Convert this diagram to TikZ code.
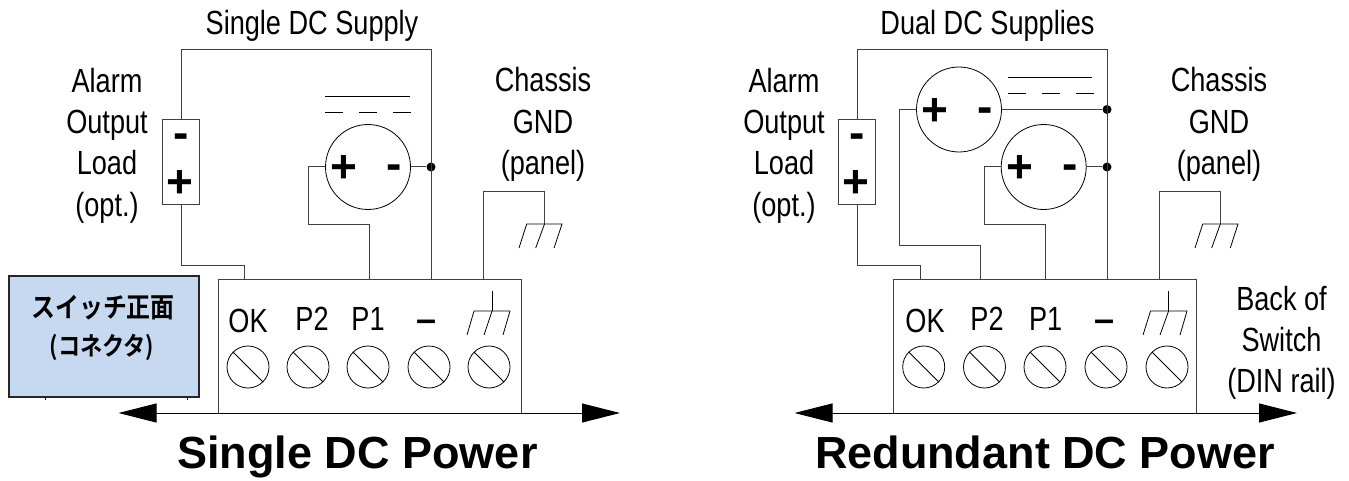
\documentclass[tikz,border=0pt]{standalone}
\usepackage{fontspec}
\usetikzlibrary{arrows.meta}
\newfontfamily\labfont[FakeStretch=0.81]{Liberation Sans}
\newfontfamily\titlefont{Liberation Sans Bold}
\newfontfamily\cjkfont[FakeStretch=0.87]{Noto Sans CJK JP Bold}
\definecolor{wirec}{HTML}{404040}
\definecolor{panelfill}{HTML}{C6D9F1}
\tikzset{
  wire/.style={draw=wirec,line width=1pt,line join=miter},
  thin line/.style={draw=black,line width=0.8pt},
  lab/.style={inner sep=0pt,align=center,font=\labfont\fontsize{33.5}{41.3}\selectfont},
  labbase/.style={lab,anchor=base},
  titletext/.style={inner sep=0pt,anchor=base,font=\titlefont\fontsize{45}{50}\selectfont},
  sign/.style={inner sep=0pt,font=\titlefont\fontsize{46}{50}\selectfont},
  dash sign/.style={inner sep=0pt,font=\titlefont\fontsize{36}{40}\selectfont},
  supply/.style={circle,draw=black,line width=0.8pt,minimum size=85pt,inner sep=0pt},
  screw/.style={circle,draw=black,line width=0.8pt,minimum size=42pt,inner sep=0pt},
  junction/.style={circle,fill=black,minimum size=9pt,inner sep=0pt},
  loadbox/.style={rectangle,draw=wirec,line width=1pt,minimum width=37pt,minimum height=85pt,inner sep=0pt},
  blockbox/.style={rectangle,draw=wirec,line width=1pt,fill=white,inner sep=0pt},
  rail/.style={draw=black,line width=1pt,{Triangle[length=38pt,width=19pt]}-{Triangle[length=38pt,width=19pt]}},
}
\begin{document}
\begin{tikzpicture}[x=1pt,y=-1pt]
\useasboundingbox (0,0) rectangle (1349,481);
% ---------- LEFT ----------
\coordinate (Lrl) at (118.5,413);
\coordinate (Lrr) at (620,413);
\draw[rail] (Lrl) -- (Lrr);
\node[blockbox,minimum width=303pt,minimum height=134pt] (Lblk) at (369.5,346) {};
\draw[draw=black,line width=1pt] (Lblk.south west) -- (Lblk.south east);
\node[supply] (Lps) at (368,167) {};
\node[loadbox] (Lload) at (181,162.5) {};
\node[junction] (Ldot) at (431,167) {};
\coordinate (Ltl) at (181,50);
\coordinate (Ltr) at (431,50);
\coordinate (Lt) at (431,279);
\draw[wire] (Lload.north) -- (Ltl) -- (Ltr) -- (Lt);
\draw[wire] (Lps.east) -- (Ldot);
\coordinate (Lok) at (244.5,279);
\draw[wire] (Lload.south) -- (181,265) -- (244.5,265) -- (Lok);
\coordinate (Lp1) at (369,279);
\draw[wire] (Lps.west) -- (308.5,167) -- (308.5,225) -- (369,225) -- (Lp1);
\coordinate (Lch) at (483.5,279);
\coordinate (Lgt) at (544.5,224);
\draw[wire] (Lch) -- (483.5,191.7) -- (544.5,191.7) -- (Lgt);
\draw[thin line] (519,248) -- (526.7,224) -- (562,224) -- (554,248);
\draw[thin line] (Lgt) -- (535.7,248);
\draw[thin line] (325,96) -- (409.5,96);
\draw[thin line,dash pattern=on 18pt off 16pt] (325,112) -- (411.5,112);
\node[sign] (Lpp) at (344,169) {+};
\node[sign] (Lpm) at (394,172) {-};
\node[sign] (Llm) at (181,141) {-};
\node[sign] (Llp) at (179.5,184) {+};
\node[labbase] (Lt1) at (312,35) {Single DC Supply};
\node[lab] (Lt2) at (107,145.5) {Alarm\\Output\\Load\\(opt.)};
\node[lab] (Lt3) at (543,124.5) {Chassis\\GND\\(panel)};
\node[titletext] (Lttl) at (357.5,468) {Single DC Power};
\foreach \n/\x in {a/248,b/308,c/368,d/429,e/489}{
  \node[screw] (Ls\n) at (\x,367) {};
  \draw[thin line] (Ls\n.135) -- (Ls\n.-45);
}
\node[labbase] (Lok1) at (248,332) {OK};
\node[labbase] (Lp2t) at (312,330) {P2};
\node[labbase] (Lp1t) at (368,330) {P1};
\node[dash sign] (Lmt) at (427,326) {–};
\draw[thin line] (492,291) -- (492,311);
\draw[thin line] (467,335) -- (474,311) -- (510,311) -- (503,335);
\draw[thin line] (492,311) -- (484,335);
% panel
\draw[black,line width=1pt] (45,397) -- (45,400) (187,397) -- (187,400);
\node[rectangle,draw=black!85,line width=1.8pt,fill=panelfill,minimum width=190pt,minimum height=121pt,inner sep=0pt] (Lpanel) at (104,336.5) {};
\node[inner sep=0pt,font=\cjkfont\fontsize{27.5}{30}\selectfont] (Lj1) at (103,308) {スイッチ正面};
\node[inner sep=0pt,font=\cjkfont\fontsize{25.5}{28}\selectfont] (Lj2) at (102,347) {(コネクタ)};
% ---------- RIGHT ----------
\coordinate (Rrl) at (794.5,413);
\coordinate (Rrr) at (1297,413);
\draw[rail] (Rrl) -- (Rrr);
\node[blockbox,minimum width=303pt,minimum height=134pt] (Rblk) at (1045,346) {};
\draw[draw=black,line width=1pt] (Rblk.south west) -- (Rblk.south east);
\node[supply] (Rps1) at (959,109.5) {};
\node[supply] (Rps2) at (1043.7,167) {};
\node[loadbox] (Rload) at (857,162.5) {};
\node[junction] (Rdot1) at (1107,109.5) {};
\node[junction] (Rdot2) at (1107,167) {};
\coordinate (Rt) at (1107,279);
\draw[wire] (Rload.north) -- (857,50) -- (1107,50) -- (Rt);
\draw[wire] (Rps1.east) -- (Rdot1);
\draw[wire] (Rps2.east) -- (Rdot2);
\coordinate (Rok) at (920,279);
\draw[wire] (Rload.south) -- (857,265) -- (920,265) -- (Rok);
\coordinate (Rp2) at (980,279);
\draw[wire] (Rps1.west) -- (899.7,109.5) -- (899.7,245) -- (980,245) -- (Rp2);
\coordinate (Rp1) at (1045,279);
\draw[wire] (Rps2.west) -- (984.3,167) -- (984.3,225) -- (1045,225) -- (Rp1);
\coordinate (Rch) at (1159.5,279);
\coordinate (Rgt) at (1220.3,224);
\draw[wire] (Rch) -- (1159.5,191.7) -- (1220.3,191.7) -- (Rgt);
\draw[thin line] (1195,248) -- (1202.7,224) -- (1238,224) -- (1230.3,248);
\draw[thin line] (Rgt) -- (1211.7,248);
\draw[thin line] (1008,77) -- (1092,77);
\draw[thin line,dash pattern=on 18pt off 16pt] (1008,93) -- (1094,93);
\node[sign] (Rpp1) at (935,112) {+};
\node[sign] (Rpm1) at (985.5,115) {-};
\node[sign] (Rpp2) at (1019.5,169) {+};
\node[sign] (Rpm2) at (1070,172) {-};
\node[sign] (Rlm) at (857,141) {-};
\node[sign] (Rlp) at (855.5,184) {+};
\node[labbase] (Rt1) at (987.5,35) {Dual DC Supplies};
\node[lab] (Rt2) at (784,145.5) {Alarm\\Output\\Load\\(opt.)};
\node[lab] (Rt3) at (1219,124.5) {Chassis\\GND\\(panel)};
\node[lab] (Rt4) at (1281.5,343) {Back of\\Switch\\(DIN rail)};
\node[titletext] (Rttl) at (1045,468) {Redundant DC Power};
\foreach \n/\x in {a/923.7,b/984.5,c/1045,d/1106,e/1167}{
  \node[screw] (Rs\n) at (\x,367) {};
  \draw[thin line] (Rs\n.135) -- (Rs\n.-45);
}
\node[labbase] (Rok1) at (925,332) {OK};
\node[labbase] (Rp2t) at (987,330) {P2};
\node[labbase] (Rp1t) at (1045.6,330) {P1};
\node[dash sign] (Rmt) at (1104,326) {–};
\draw[thin line] (1168.6,291) -- (1168.6,311);
\draw[thin line] (1143,335) -- (1150.5,311) -- (1187,311) -- (1180,335);
\draw[thin line] (1168.6,311) -- (1160,335);
\end{tikzpicture}
\end{document}
